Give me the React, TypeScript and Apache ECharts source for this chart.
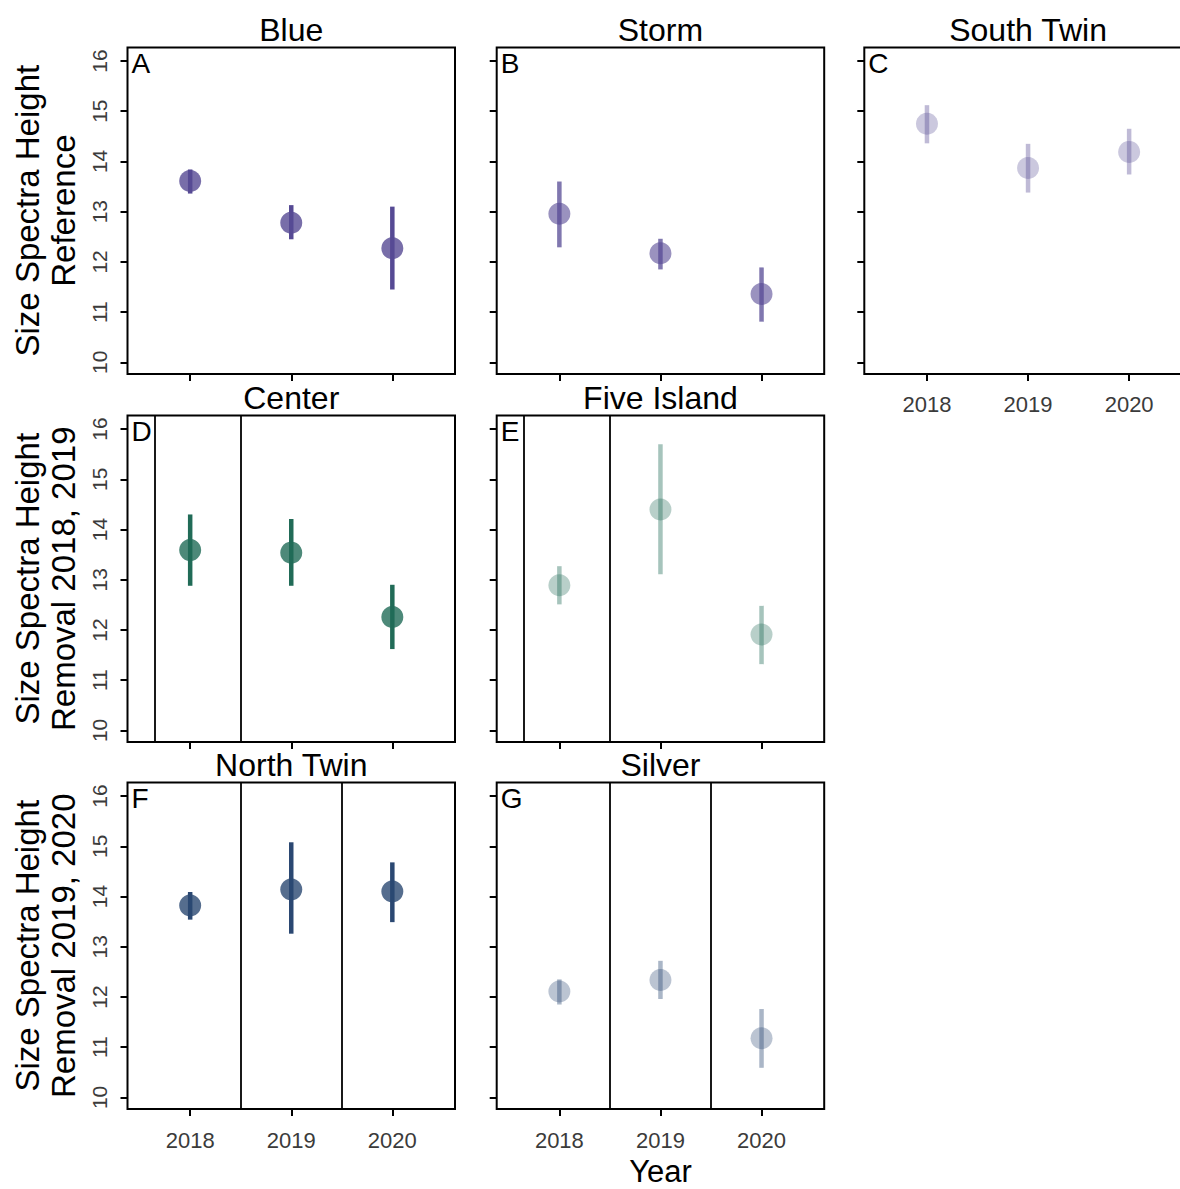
import React, { useEffect, useRef } from "react";
import * as echarts from "echarts";

const years = [2018, 2019, 2020];
const yTicks = [10, 11, 12, 13, 14, 15, 16];

const panelNames = ["Blue", "Storm", "South Twin", "Center", "Five Island", "North Twin", "Silver"];
const panelLetters = ["A", "B", "C", "D", "E", "F", "G"];

const blueMean = [13.61, 12.78, 12.27];
const blueLow = [13.36, 12.45, 11.45];
const blueHigh = [13.84, 13.13, 13.1];

const stormMean = [12.96, 12.17, 11.36];
const stormLow = [12.29, 11.85, 10.81];
const stormHigh = [13.6, 12.46, 11.89];

const southTwinMean = [14.75, 13.87, 14.19];
const southTwinLow = [14.36, 13.38, 13.74];
const southTwinHigh = [15.12, 14.35, 14.65];

const centerMean = [13.59, 13.54, 12.26];
const centerLow = [12.88, 12.88, 11.62];
const centerHigh = [14.3, 14.21, 12.9];

const fiveIslandMean = [12.89, 14.4, 11.91];
const fiveIslandLow = [12.51, 13.11, 11.32];
const fiveIslandHigh = [13.27, 15.7, 12.48];

const northTwinMean = [13.82, 14.14, 14.1];
const northTwinLow = [13.54, 13.26, 13.49];
const northTwinHigh = [14.09, 15.08, 14.68];

const silverMean = [12.11, 12.34, 11.18];
const silverLow = [11.85, 11.96, 10.59];
const silverHigh = [12.35, 12.72, 11.76];

const centerLines = [2017.65, 2018.5];
const fiveIslandLines = [2017.65, 2018.5];
const northTwinLines = [2018.5, 2019.5];
const silverLines = [2018.5, 2019.5];

const rowTitles = [
  "Size Spectra Height\nReference",
  "Size Spectra Height\nRemoval 2018, 2019",
  "Size Spectra Height\nRemoval 2019, 2020",
];

const PURPLE = [86, 74, 148];
const GREEN = [33, 107, 87];
const NAVY = [43, 72, 114];

const rgba = (c: number[], a: number) => `rgba(${c[0]},${c[1]},${c[2]},${a})`;

const panels = [
  { row: 0, col: 0, mean: blueMean, low: blueLow, high: blueHigh, color: PURPLE, alpha: 1, lines: [] as number[] },
  { row: 0, col: 1, mean: stormMean, low: stormLow, high: stormHigh, color: PURPLE, alpha: 0.75, lines: [] as number[] },
  { row: 0, col: 2, mean: southTwinMean, low: southTwinLow, high: southTwinHigh, color: PURPLE, alpha: 0.38, lines: [] as number[] },
  { row: 1, col: 0, mean: centerMean, low: centerLow, high: centerHigh, color: GREEN, alpha: 1, lines: centerLines },
  { row: 1, col: 1, mean: fiveIslandMean, low: fiveIslandLow, high: fiveIslandHigh, color: GREEN, alpha: 0.4, lines: fiveIslandLines },
  { row: 2, col: 0, mean: northTwinMean, low: northTwinLow, high: northTwinHigh, color: NAVY, alpha: 1, lines: northTwinLines },
  { row: 2, col: 1, mean: silverMean, low: silverLow, high: silverHigh, color: NAVY, alpha: 0.4, lines: silverLines },
];

const xLabelPanels = [2, 5, 6];

const COLS = [127.5, 496.7, 864.3];
const ROWS = [47.4, 415.5, 782.5];
const PW = 327.5;
const PH = 326.5;
const FONT = "Liberation Sans, Arial, sans-serif";

export default function App() {
  const ref = useRef<HTMLDivElement>(null);
  useEffect(() => {
    document.body.style.margin = "0";
    const chart = echarts.init(ref.current!, null, { renderer: "svg" });

    const grid: any[] = [];
    const xAxis: any[] = [];
    const yAxis: any[] = [];
    const series: any[] = [];
    const graphic: any[] = [];

    panels.forEach((p, i) => {
      const left = COLS[p.col];
      const top = ROWS[p.row];
      grid.push({
        left,
        top,
        width: PW,
        height: PH,
        show: true,
        borderColor: "#000",
        borderWidth: 2,
        backgroundColor: "transparent",
        containLabel: false,
      });
      xAxis.push({
        gridIndex: i,
        type: "value",
        min: 2017.38,
        max: 2020.62,
        axisLine: { show: false },
        splitLine: { show: false },
        axisTick: { show: true, length: 7, lineStyle: { color: "#000", width: 2 }, customValues: years },
        axisLabel: {
          show: xLabelPanels.includes(i),
          customValues: years,
          formatter: (v: number) => String(v),
          fontSize: 22,
          color: "#3b3b3b",
          margin: 20,
          fontFamily: FONT,
        },
      });
      yAxis.push({
        gridIndex: i,
        type: "value",
        min: 9.77,
        max: 16.27,
        axisLine: { show: false },
        splitLine: { show: false },
        axisTick: { show: true, length: 7, lineStyle: { color: "#000", width: 2 }, customValues: yTicks },
        axisLabel: {
          show: p.col === 0,
          customValues: yTicks,
          formatter: (v: number) => String(v),
          rotate: 90,
          fontSize: 21,
          color: "#3b3b3b",
          margin: 18,
          fontFamily: FONT,
        },
      });
      const barColor = rgba(p.color, p.alpha);
      series.push({
        type: "custom",
        xAxisIndex: i,
        yAxisIndex: i,
        z: 2,
        data: years.map((y, k) => [y, p.low[k], p.high[k]]),
        renderItem: (params: any, api: any) => {
          const x = api.value(0);
          const a = api.coord([x, api.value(1)]);
          const b = api.coord([x, api.value(2)]);
          return {
            type: "line",
            shape: { x1: a[0], y1: a[1], x2: b[0], y2: b[1] },
            style: { stroke: barColor, lineWidth: 4.5, lineCap: "butt" },
          };
        },
      });
      series.push({
        type: "scatter",
        xAxisIndex: i,
        yAxisIndex: i,
        z: 3,
        symbol: "circle",
        symbolSize: 22,
        itemStyle: { color: barColor },
        data: years.map((y, k) => [y, p.mean[k]]),
        markLine: p.lines.length
          ? {
              silent: true,
              symbol: "none",
              label: { show: false },
              lineStyle: { color: "#000", width: 1.8, type: "solid" },
              data: p.lines.map((v) => ({ xAxis: v })),
            }
          : undefined,
      });

      graphic.push({
        type: "text",
        x: left + PW / 2,
        y: top - 6 - 0.3465 * 32,
        style: {
          text: panelNames[i],
          fontSize: 32,
          fontFamily: FONT,
          fill: "#000",
          textAlign: "center",
          textVerticalAlign: "middle",
        },
      });
      graphic.push({
        type: "text",
        x: left + 4,
        y: top + 16,
        style: {
          text: panelLetters[i],
          fontSize: 28,
          fontFamily: FONT,
          fill: "#000",
          textAlign: "left",
          textVerticalAlign: "middle",
        },
      });
    });

    rowTitles.forEach((t, r) => {
      graphic.push({
        type: "text",
        x: 45,
        y: ROWS[r] + PH / 2,
        rotation: Math.PI / 2,
        style: {
          text: t,
          fontSize: 33,
          lineHeight: 36,
          fontFamily: FONT,
          fill: "#000",
          textAlign: "center",
          textVerticalAlign: "middle",
        },
      });
    });

    graphic.push({
      type: "text",
      x: COLS[1] + PW / 2,
      y: 1171,
      style: {
        text: "Year",
        fontSize: 31,
        fontFamily: FONT,
        fill: "#000",
        textAlign: "center",
        textVerticalAlign: "middle",
      },
    });

    chart.setOption({
      animation: false,
      backgroundColor: "#fff",
      grid,
      xAxis,
      yAxis,
      series,
      graphic,
    });
    return () => chart.dispose();
  }, []);
  return (
    <div style={{ position: "fixed", left: 0, top: 0, width: 1180, height: 1189, overflow: "hidden", background: "#fff" }}>
      <div ref={ref} style={{ width: 1210, height: 1189 }} />
    </div>
  );
}
